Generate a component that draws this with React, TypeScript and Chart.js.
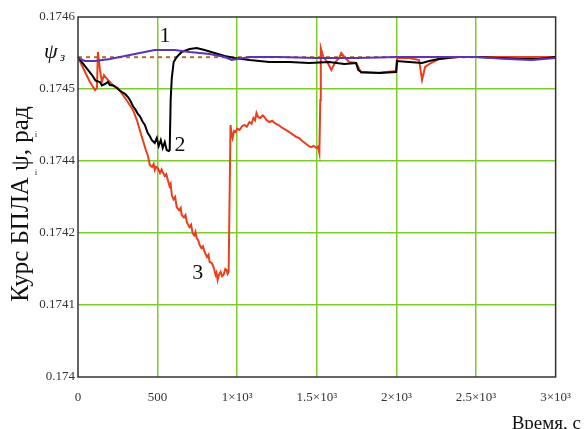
import React, { useEffect, useRef } from "react";
import { Chart, registerables } from "chart.js";
Chart.register(...registerables);

const X_TICKS = [0, 500, 1000, 1500, 2000, 2500, 3000];
const X_TICK_LABELS = ["0", "500", "1×10³", "1.5×10³", "2×10³", "2.5×10³", "3×10³"];
const Y_TICKS = [0.174, 0.17412, 0.17424, 0.17436, 0.17448, 0.1746];
const Y_TICK_LABELS = ["0.174", "0.1741", "0.1742", "0.1744", "0.1745", "0.1746"];
const PSI_REF = 0.174533;

// Curve 1 (purple)
const T1 = [0, 44, 106, 200, 294, 388, 482, 608, 701, 827, 921, 965, 1077, 1265, 1500, 1750, 2000, 2250, 2500, 2700, 2850, 3000];
const V1 = [0.1745317, 0.1745267, 0.1745267, 0.17453, 0.174535, 0.17454, 0.174545, 0.174545, 0.1745417, 0.1745383, 0.1745333, 0.1745283, 0.1745333, 0.1745333, 0.1745317, 0.1745317, 0.1745333, 0.1745333, 0.1745333, 0.17453, 0.1745283, 0.1745317];

// Curve 2 (black)
const T2 = [
  0, 44, 88, 110, 138, 150, 169, 188, 200, 220,
  244, 260, 276, 295, 313, 330, 345, 360, 376, 390,
  407, 420, 438, 450, 463, 482, 495, 507, 520, 532,
  545, 557, 570, 576, 582, 589, 601, 620, 651, 702,
  745, 795, 858, 921, 983, 1077, 1202, 1327, 1453, 1578,
  1672, 1747, 1760, 1779, 1891, 1998, 2004, 2079, 2161, 2205,
  2267, 2374, 2518, 2643, 2768, 2894, 3000,
];
const V2 = [
  0.1745333, 0.1745183, 0.1745033, 0.174494, 0.1744917, 0.174486, 0.1744883, 0.1744917, 0.1744867, 0.174486,
  0.1744817, 0.174478, 0.174475, 0.174472, 0.1744667, 0.17446, 0.1744517, 0.174446, 0.1744383, 0.174434,
  0.174425, 0.17442, 0.1744067, 0.174402, 0.174395, 0.17439, 0.1743983, 0.174385, 0.174395, 0.1743817,
  0.1743917, 0.1743783, 0.1743767, 0.1743783, 0.1744617, 0.1744983, 0.174525, 0.1745333, 0.1745417, 0.1745467,
  0.1745483, 0.174545, 0.17454, 0.174535, 0.1745317, 0.1745283, 0.174525, 0.174525, 0.1745233, 0.174525,
  0.1745217, 0.1745233, 0.1745117, 0.1745083, 0.1745067, 0.1745083, 0.1745267, 0.174525, 0.1745233, 0.1745267,
  0.17453, 0.1745333, 0.1745333, 0.1745317, 0.17453, 0.17453, 0.1745333,
];

// Curve 3 (red)
const T3 = [
  0, 38, 75, 107, 119, 125, 138, 150, 163, 188,
  219, 250, 282, 313, 345, 370, 388, 407, 426, 440,
  451, 465, 475, 482, 490, 501, 515, 525, 532, 545,
  555, 564, 575, 582, 589, 600, 610, 620, 635, 645,
  651, 665, 675, 683, 700, 710, 720, 730, 738, 745,
  755, 764, 775, 785, 795, 810, 820, 827, 840, 846,
  855, 864, 870, 877, 885, 896, 905, 914, 925, 933,
  940, 946, 952, 958, 965, 971, 980, 990, 1000, 1015,
  1030, 1046, 1060, 1077, 1090, 1102, 1112, 1121, 1132, 1146,
  1160, 1171, 1185, 1203, 1220, 1234, 1260, 1284, 1305, 1328,
  1350, 1372, 1390, 1409, 1425, 1441, 1455, 1466, 1480, 1497,
  1508, 1516, 1522, 1525, 1541, 1566, 1591, 1616, 1641, 1653,
  1679, 1704, 1747, 1779, 1891, 1998, 2004, 2079, 2142, 2161,
  2180, 2217, 2267, 2393, 2643, 3000,
];
const V3 = [
  0.1745333, 0.1745117, 0.1744917, 0.1744783, 0.1744817, 0.1745417, 0.1745117, 0.1744917, 0.1745033, 0.174495,
  0.1744867, 0.1744817, 0.17447, 0.1744583, 0.174445, 0.1744283, 0.1744117, 0.174395, 0.1743783, 0.174368,
  0.1743533, 0.17435, 0.174355, 0.174345, 0.17435, 0.1743483, 0.17434, 0.174346, 0.1743417, 0.174335,
  0.174338, 0.1743283, 0.174318, 0.174322, 0.1743033, 0.174296, 0.1743, 0.1742833, 0.174278, 0.174282,
  0.17427, 0.174266, 0.17427, 0.1742583, 0.17425, 0.174254, 0.17424, 0.174236, 0.174242, 0.1742317,
  0.174228, 0.17422, 0.174215, 0.174218, 0.1742083, 0.1742, 0.174204, 0.1741917, 0.17419, 0.1741867,
  0.17418, 0.17417, 0.174174, 0.1741617, 0.17417, 0.174175, 0.174168, 0.17417, 0.17418, 0.1741783,
  0.174172, 0.174175, 0.174295, 0.17442, 0.174405, 0.1743983, 0.17441, 0.1744083, 0.174414, 0.1744117,
  0.174418, 0.17442, 0.174417, 0.174425, 0.174422, 0.1744317, 0.174428, 0.17444, 0.174433, 0.1744317,
  0.174436, 0.1744333, 0.174428, 0.174425, 0.174427, 0.1744233, 0.17442, 0.174415, 0.174412, 0.1744083,
  0.174404, 0.1744, 0.174398, 0.1743933, 0.17439, 0.1743867, 0.174384, 0.1743833, 0.174385, 0.1743817,
  0.174384, 0.1743733, 0.1744617, 0.1745483, 0.1745333, 0.174525, 0.1745117, 0.174525, 0.1745317, 0.17454,
  0.1745317, 0.174525, 0.1745233, 0.174507, 0.174507, 0.17451, 0.1745317, 0.1745317, 0.1745283, 0.174495,
  0.1745167, 0.1745233, 0.17453, 0.1745333, 0.1745333, 0.1745333,
];

const zip = (t: number[], v: number[]) => t.map((x, i) => ({ x, y: v[i] }));

const SERIF = "'Liberation Serif', 'DejaVu Serif', serif";

const annotations = {
  id: "annotations",
  afterDraw(chart: any) {
    const { ctx, chartArea, scales } = chart;
    const xs = scales.x;
    const ys = scales.y;
    ctx.save();
    // frame
    ctx.strokeStyle = "#333";
    ctx.lineWidth = 1.5;
    ctx.strokeRect(chartArea.left, chartArea.top, chartArea.right - chartArea.left, chartArea.bottom - chartArea.top);
    // curve labels
    ctx.fillStyle = "#111";
    ctx.font = `22px ${SERIF}`;
    ctx.textAlign = "center";
    ctx.textBaseline = "middle";
    ctx.fillText("1", xs.getPixelForValue(546), ys.getPixelForValue(0.174568));
    ctx.fillText("2", xs.getPixelForValue(640), ys.getPixelForValue(0.174387));
    ctx.fillText("3", xs.getPixelForValue(752), ys.getPixelForValue(0.174173));
    // psi_z label
    ctx.font = `italic 22px ${SERIF}`;
    ctx.textAlign = "left";
    ctx.textBaseline = "alphabetic";
    const py = ys.getPixelForValue(PSI_REF);
    ctx.fillText("ψ", 44, py + 1);
    ctx.font = `italic 13px ${SERIF}`;
    ctx.fillText("з", 60, py + 4);
    // y title
    ctx.save();
    ctx.translate(21, 204);
    ctx.rotate(-Math.PI / 2);
    ctx.font = `25px ${SERIF}`;
    ctx.textAlign = "center";
    ctx.textBaseline = "middle";
    ctx.fillText("Курс БПЛА ψ, рад", 0, 0);
    ctx.restore();
    ctx.font = `9px ${SERIF}`;
    ctx.textAlign = "center";
    ctx.fillStyle = "#333";
    ctx.fillText("i", 36, 137);
    ctx.fillText("i", 36, 175);
    // x title
    ctx.fillStyle = "#111";
    ctx.font = `19px ${SERIF}`;
    ctx.textAlign = "right";
    ctx.textBaseline = "alphabetic";
    ctx.fillText("Время, с", 581, 429);
    ctx.restore();
  },
};

export default function App() {
  const ref = useRef<HTMLCanvasElement>(null);
  useEffect(() => {
    if (!ref.current) return;
    const chart = new Chart(ref.current, {
      type: "line",
      data: {
        datasets: [
          { data: zip(T1, V1), borderColor: "#5a34b8", borderWidth: 2, pointRadius: 0, tension: 0 },
          { data: zip(T2, V2), borderColor: "#000000", borderWidth: 2, pointRadius: 0, tension: 0 },
          { data: zip(T3, V3), borderColor: "#e8401c", borderWidth: 2, pointRadius: 0, tension: 0 },
          { data: [{ x: 0, y: PSI_REF }, { x: 3000, y: PSI_REF }], borderColor: "#b86a2a", borderWidth: 2, borderDash: [4, 4], pointRadius: 0 },
        ],
      },
      options: {
        responsive: false,
        animation: false,
        layout: { padding: { top: 17, right: 27, left: 0, bottom: 0 } },
        plugins: { legend: { display: false }, tooltip: { enabled: false } },
        scales: {
          x: {
            type: "linear",
            min: 0,
            max: 3000,
            afterBuildTicks: (s: any) => { s.ticks = X_TICKS.map((v) => ({ value: v })); },
            afterFit: (s: any) => { s.height = 52; },
            ticks: {
              autoSkip: false,
              maxRotation: 0,
              padding: 13,
              color: "#333",
              font: { family: SERIF, size: 13 },
              callback: (v: any) => X_TICK_LABELS[X_TICKS.indexOf(Number(v))] ?? "",
            },
            grid: {
              color: (c: any) => (c.index === 0 || c.index === X_TICKS.length - 1 ? "rgba(0,0,0,0)" : "#7ccc2c"),
              lineWidth: 1.5,
              drawTicks: false,
            },
            border: { display: false },
          },
          y: {
            type: "linear",
            min: 0.174,
            max: 0.1746,
            afterBuildTicks: (s: any) => { s.ticks = Y_TICKS.map((v) => ({ value: v })); },
            afterFit: (s: any) => { s.width = 78; },
            ticks: {
              autoSkip: false,
              padding: 3,
              color: "#333",
              font: { family: SERIF, size: 13 },
              callback: (v: any) => {
                const i = Y_TICKS.findIndex((t) => Math.abs(t - Number(v)) < 1e-9);
                return i >= 0 ? Y_TICK_LABELS[i] : "";
              },
            },
            grid: {
              color: (c: any) => (c.index === 0 || c.index === Y_TICKS.length - 1 ? "rgba(0,0,0,0)" : "#7ccc2c"),
              lineWidth: 1.5,
              drawTicks: false,
            },
            border: { display: false },
          },
        },
      },
      plugins: [annotations],
    });
    return () => chart.destroy();
  }, []);
  return (
    <div style={{ position: "fixed", left: 0, top: 0, width: 584, height: 429, background: "#fff" }}>
      <canvas ref={ref} width={584} height={429} />
    </div>
  );
}
